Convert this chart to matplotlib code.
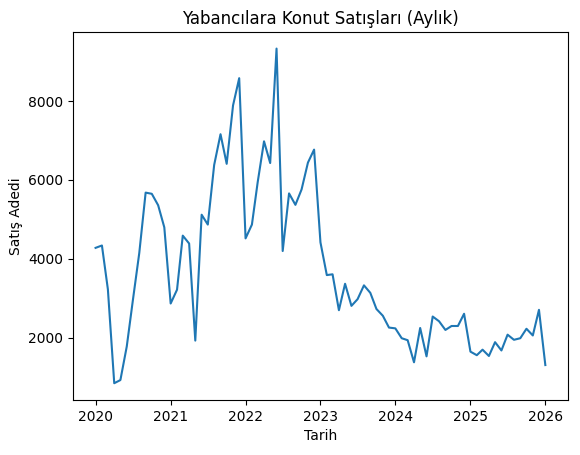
import pandas as pd
import matplotlib.pyplot as plt

dates = pd.date_range('2020-01-01', '2026-01-01', freq='MS')
sales = [4280, 4340, 3230, 850, 930, 1780, 2960, 4150, 5680, 5650, 5360, 4800,
         2870, 3220, 4590, 4390, 1930, 5120, 4870, 6380, 7160, 6410, 7890, 8580,
         4520, 4870, 5940, 6980, 6430, 9330, 4200, 5660, 5370, 5760, 6440, 6770,
         4420, 3590, 3610, 2700, 3370, 2810, 2980, 3330, 3140, 2730, 2560, 2260,
         2240, 1990, 1940, 1380, 2250, 1530, 2540, 2420, 2200, 2300, 2300, 2610,
         1650, 1560, 1700, 1540, 1890, 1680, 2080, 1950, 1990, 2230, 2060, 2710,
         1310]

fig, ax = plt.subplots(figsize=(5.8, 4.55), dpi=100)
ax.plot(dates, sales)
ax.set_title('Yabancılara Konut Satışları (Aylık)')
ax.set_xlabel('Tarih')
ax.set_ylabel('Satış Adedi')
plt.subplots_adjust(left=0.126, right=0.979, top=0.93, bottom=0.121)
plt.savefig('out.png', dpi=100)
